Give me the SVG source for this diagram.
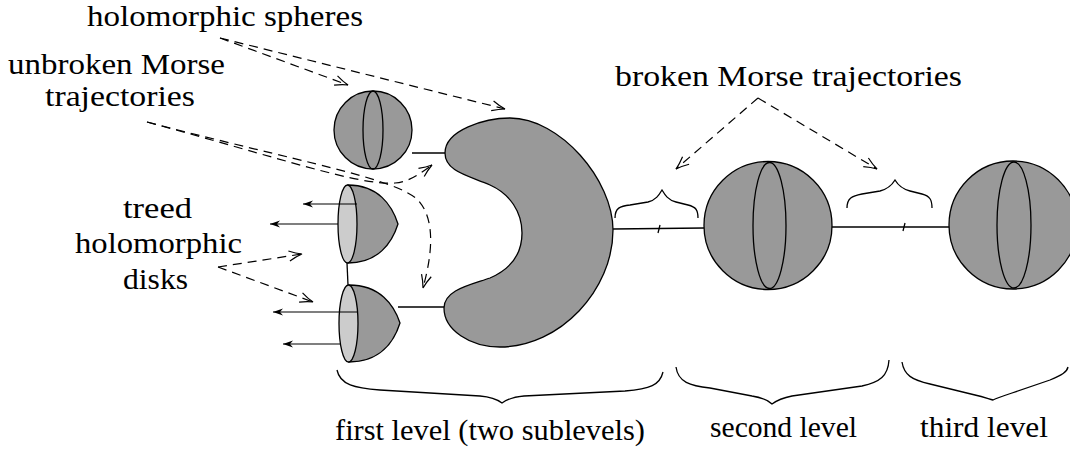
<svg xmlns="http://www.w3.org/2000/svg" width="1070" height="450" viewBox="0 0 1070 450">
<style>
.dk{fill:#999999;stroke:#000;stroke-width:1.3}
.lt{fill:#cccccc;stroke:#000;stroke-width:1.3}
.ln{fill:none;stroke:#000;stroke-width:1.3}
.da{fill:none;stroke:#000;stroke-width:1.2;stroke-dasharray:9,6;marker-end:url(#open)}
.ar{fill:none;stroke:#000;stroke-width:1.2;marker-end:url(#solid)}
.br{fill:none;stroke:#000;stroke-width:1.3}
text{font-family:'Liberation Serif','DejaVu Serif','Tinos','Times New Roman','Nimbus Roman','FreeSerif','Noto Serif',Times,serif;font-size:30px;fill:#000}
</style>
<defs>
<marker id="open" markerUnits="userSpaceOnUse" markerWidth="20" markerHeight="20" refX="0" refY="0" orient="auto" viewBox="-15 -10 20 20" overflow="visible">
<path d="M-13,-5 Q-6,-1.5 0,0 Q-6,1.5 -13,5" fill="none" stroke="#000" stroke-width="1.2"/>
</marker>
<marker id="solid" markerUnits="userSpaceOnUse" markerWidth="14" markerHeight="10" refX="0" refY="0" orient="auto" viewBox="-12 -5 14 10" overflow="visible">
<path d="M-10,-3.5 L0,0 L-10,3.5 L-7,0 Z" fill="#000"/>
</marker>
</defs>

<g id="labels">
<text x="87" y="26" textLength="276" lengthAdjust="spacingAndGlyphs">holomorphic spheres</text>
<text x="8" y="74" textLength="217" lengthAdjust="spacingAndGlyphs">unbroken Morse</text>
<text x="45" y="106" textLength="150" lengthAdjust="spacingAndGlyphs">trajectories</text>
<text x="123" y="218" textLength="69" lengthAdjust="spacingAndGlyphs">treed</text>
<text x="75" y="253" textLength="167" lengthAdjust="spacingAndGlyphs">holomorphic</text>
<text x="123" y="289" textLength="65" lengthAdjust="spacingAndGlyphs">disks</text>
<text x="615" y="86" textLength="347" lengthAdjust="spacingAndGlyphs">broken Morse trajectories</text>
<text x="335" y="440" textLength="310" lengthAdjust="spacingAndGlyphs">first level (two sublevels)</text>
<text x="710" y="437" textLength="147" lengthAdjust="spacingAndGlyphs">second level</text>
<text x="920" y="437" textLength="128" lengthAdjust="spacingAndGlyphs">third level</text>
</g>

<g id="connectors">
<path class="ln" d="M412,153 L445,153"/>
<path class="ln" d="M347,263 L348,285"/>
<path class="ln" d="M398,307 L444,307"/>
<path class="ln" d="M613,229 L704,228"/>
<path class="ln" d="M658,233 L660,225"/>
<path class="ln" d="M832,227 L949,227"/>
<path class="ln" d="M903,231 L905,223"/>
<path class="da" d="M220,38 L348,85"/>
<path class="da" d="M220,38 L505,109"/>
<path class="da" d="M147,122 C280,158 360,186 395,183 C410,182 422,172 432,165"/>
<path class="da" d="M147,122 C300,162 395,178 418,200 C438,222 430,262 423,288"/>
<path class="da" d="M218,267 L302,254"/>
<path class="da" d="M218,267 L313,302"/>
<path class="da" d="M758,98 L676,169"/>
<path class="da" d="M758,98 L877,169"/>
</g>

<g id="small-sphere">
<circle class="dk" cx="373" cy="130" r="39"/>
<ellipse class="ln" cx="373" cy="130" rx="10" ry="39"/>
</g>

<g id="crescent">
<path class="dk" d="M445,153 C445,130 485,118 510,118 C560,118 613,180 613,230 C613,290 560,347 500,347 C470,347 444,330 444,308 C444,290 470,285 490,278 C513,268 522,252 522,233 C522,212 510,194 490,185 C470,176 445,172 445,153 Z"/>
</g>

<g id="disk-upper">
<path class="dk" d="M348,185 C378,185 392,205 398,224 C392,243 378,263 348,263 Z"/>
<ellipse class="lt" cx="347.5" cy="224" rx="9.5" ry="39"/>
<path class="ar" d="M357,204 L303,204"/>
<path class="ar" d="M338,224 L270,224"/>
</g>

<g id="disk-lower">
<path class="dk" d="M349,285 C380,285 394,305 400,323 C394,342 380,362 349,362 Z"/>
<ellipse class="lt" cx="348.5" cy="323.5" rx="9.5" ry="38.5"/>
<path class="ar" d="M358,312 L273,312"/>
<path class="ar" d="M340,344 L283,344"/>
</g>

<g id="sphere-2">
<circle class="dk" cx="768" cy="225.5" r="64"/>
<ellipse class="ln" cx="769.5" cy="225.5" rx="16.5" ry="63"/>
</g>

<g id="sphere-3">
<circle class="dk" cx="1013" cy="225" r="64"/>
<ellipse class="ln" cx="1014" cy="225" rx="17" ry="63"/>
</g>

<g id="braces">
<path class="br" d="M615,218 C615,208 620,206 630,205 L648,202 C656,200 659,195 662,190 C665,195 668,200 676,202 L688,205 C696,207 698,210 698,218"/>
<path class="br" d="M847,208 C847,198 852,196 862,194 L880,191 C888,189 892,185 895,180 C898,185 902,189 910,191 L922,194 C930,196 932,200 932,208"/>
<path class="br" d="M337,370 C340,385 355,388 380,390 L480,396 C492,397 498,400 502,403 C506,400 512,397 524,396 L625,391 C650,389 660,385 663,372"/>
<path class="br" d="M676,367 C678,382 690,386 710,388 L752,396 C764,398 769,401 772,404 C776,401 782,398 792,396 L862,386 C880,382 888,376 889,360"/>
<path class="br" d="M902,362 C904,375 912,380 930,384 L975,395 C984,397 989,399 993,400 C997,398 1003,396 1012,393 L1050,380 C1062,375 1067,372 1068,367"/>
</g>
</svg>
